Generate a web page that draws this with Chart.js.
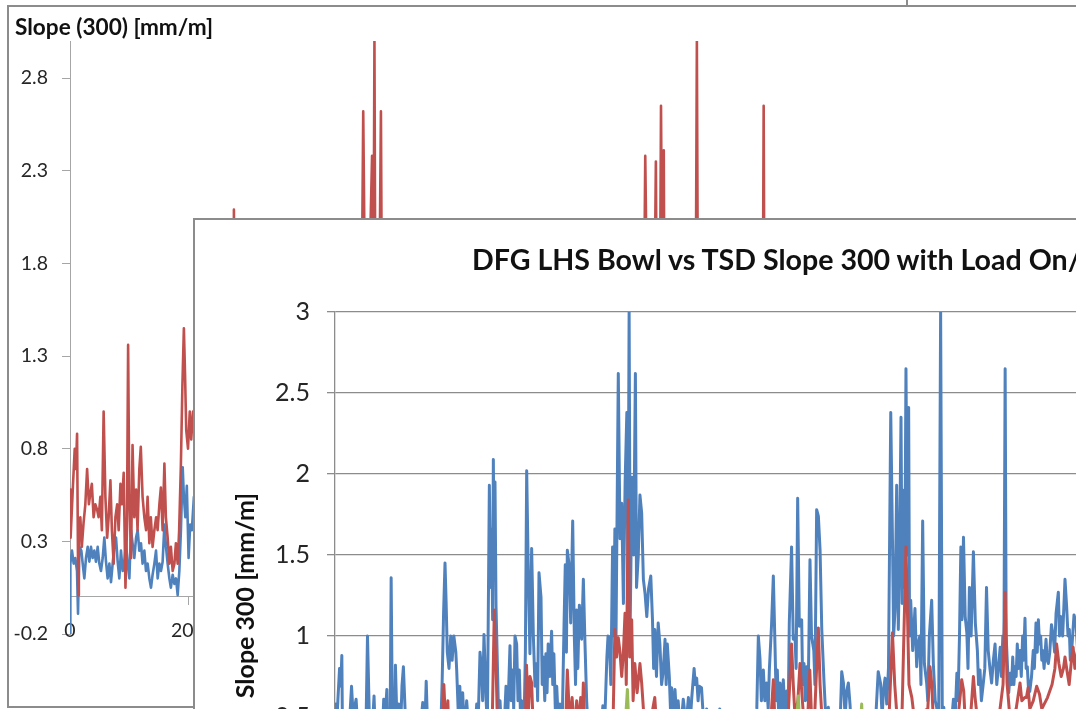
<!DOCTYPE html>
<html>
<head>
<meta charset="utf-8">
<script src="https://cdn.jsdelivr.net/npm/chart.js@4.4.1/dist/chart.umd.min.js"></script>
<style>
  body { margin: 0; width: 1076px; height: 709px; overflow: hidden; position: relative; background: #fff; }
  .frame { position: absolute; background: #fff; box-sizing: content-box; }
  #back { left: 7px; top: 5px; width: 1067px; height: 699px; border: 2px solid #8c8c8c; border-right: 1px solid #c8c8c8; z-index: 1; }
  #front { left: 193px; top: 218px; width: 1000px; height: 700px; border-left: 2px solid #8c8c8c; border-top: 2px solid #8c8c8c; z-index: 2; }
  #backChart, #frontChart { position: absolute; left: 0; top: 0; }
  .title { position: absolute; font-family: Lato, sans-serif; font-weight: bold; color: #111; white-space: nowrap; }
  #backTitle { left: 6px; top: 9px; font-size: 22.6px; line-height: 22px; }
  #frontTitle { left: 277px; top: 25px; font-size: 28.6px; line-height: 28px; }
  #edge { position: absolute; left: 906px; top: 0; width: 2px; height: 5px; background: #8c8c8c; }
</style>
</head>
<body>
<div id="edge"></div>
<div id="back" class="frame">
  <canvas id="backChart" width="1066" height="699"></canvas>
  <div id="backTitle" class="title">Slope (300) [mm/m]</div>
</div>
<div id="front" class="frame">
  <canvas id="frontChart" width="995" height="700"></canvas>
  <div id="frontTitle" class="title">DFG LHS Bowl vs TSD Slope 300 with Load On/Off</div>
</div>
<script>
// TSD slope 300 [distance, mm/m] - red in the back chart, blue in the front chart
const tsdSlope300 = [
  [0,0.58],[1,0.32],[5,0.6],[8,0.8],[10,0.69],[12,0.88],[14,0.01],[15,0.32],[17.5,0.43],[20,0.27],
  [23,0.4],[26,0.5],[29,0.69],[32,0.5],[34.5,0.56],[37,0.61],[40,0.43],[43,0.5],[46,0.47],[48.5,0.43],
  [51.5,0.54],[54,0.36],[57,1.0],[60,0.54],[63,0.32],[65.5,0.43],[68.5,0.63],[71,0.36],[74,0.18],[77,0.43],
  [80,0.5],[82.5,0.36],[85.5,0.61],[88,0.5],[91,0.67],[94,0.05],[96.5,0.36],[98.5,1.36],[100.5,0.54],[103.5,0.21],
  [106,0.82],[109,0.43],[112,0.58],[114.5,0.36],[117.5,0.69],[120,0.81],[123,0.54],[126,0.43],[129,0.36],[131.5,0.54],
  [134.5,0.29],[137,0.43],[140,0.27],[143,0.36],[146,0.43],[148.5,0.36],[151.5,0.5],[154,0.59],[157,0.36],[160,0.72],
  [162.5,0.43],[165.5,0.32],[168.5,0.18],[171,0.27],[174,0.14],[177,0.18],[179.5,0.29],[182.5,0.18],[185,0.36],[188,0.72],
  [190.5,1.14],[193,1.45],[195,1.2],[197,0.9],[200,0.8],[203,1.0],[205.5,0.85],[208.5,1.0],[212,0.9],
  [213.5,0.79],[216,0.55],[219,0.69],[221,0.45],[224,0.65],[227,0.4],[231,0.6],[236,0.35],[240,0.45],[244,0.3],
  [248.6,0.58],[251,0.45],[254.4,0.9],[257.3,0.79],[259,0.6],[261.4,1.01],[264.9,0.62],[267.3,0.45],[270.8,1.93],[273,1.3],
  [274.9,1.66],[276.5,1.1],[277.8,2.09],[279,1.5],[280.7,1.95],[282.5,1.18],[285.4,0.75],[287,0.5],[289.5,0.6],[293,0.35],
  [297,0.45],[300,0.69],[303,0.5],[307,0.94],[309,0.6],[311.7,0.79],[313.5,0.55],[315.8,1.0],[318.7,0.95],[321,0.6],
  [323.4,0.79],[325.5,0.5],[327.5,0.6],[331.6,0.45],[334,0.9],[336.3,2.02],[339,1.41],[342,0.89],[345,1.54],[348,1.0],
  [350.9,0.69],[353.8,0.83],[355.5,0.6],[357.9,1.39],[361.4,1.24],[363.5,0.7],[365.5,0.87],[368,0.6],[370,0.89],[372,0.65],
  [374,0.95],[377,0.75],[380,1.03],[382,0.7],[384,0.89],[386.5,0.55],[389,0.69],[392,0.45],[394.7,0.58],[398,0.35],
  [402,1.1],[404,1.44],[406,0.9],[407.6,1.53],[411,1.43],[413.5,1.08],[417,1.71],[420,0.98],[422,0.7],[424,1.16],
  [426,0.8],[428.7,1.19],[432.7,0.98],[435.7,1.35],[438.6,0.95],[441.5,0.6],[445,0.35],[455,0.3],[465,0.35],[470,0.57],
  [473,0.45],[477,0.87],[479,1.0],[481,0.99],[484,0.7],[487,1.55],[489,1.0],[491,1.66],[493,1.0],[497,2.62],
  [500,1.6],[503,1.82],[506,1.2],[509,1.95],[512,2.38],[514,1.3],[516,3.0],[518,1.1],[521,1.98],[524,1.5],
  [527,2.62],[529,1.3],[532,1.49],[535,1.87],[538,1.76],[541,1.35],[544,1.26],[547,1.12],[550,1.29],[554,1.37],
  [557,1.1],[559,0.8],[561,1.04],[564,0.75],[567,1.08],[570,0.95],[573,0.7],[576,0.79],[579,0.98],[581,0.7],
  [583,0.95],[586.5,0.75],[588.5,0.55],[590.6,0.68],[593,0.5],[596.5,0.67],[600,0.45],[602,0.6],[606,0.4],[611,0.61],
  [616,0.45],[620,0.62],[623,0.45],[625.7,0.61],[630,0.8],[632,0.7],[634.5,0.74],[637,0.6],[639,0.69],[643,0.68],
  [647,0.45],[652,0.55],[656,0.4],[665,0.35],[675,0.55],[680,0.35],[700,0.3],[720,0.35],[735,0.4],[740,0.55],
  [742.7,1.0],[745.6,0.86],[748,0.6],[751.5,0.79],[754,0.6],[757.3,0.71],[760,0.55],[762,0.79],[766,1.08],[769,1.37],
  [772,0.93],[774,0.6],[776,0.79],[778,0.55],[780.7,0.71],[783,0.5],[786.5,0.73],[789,0.55],[792.4,0.66],[795,0.5],
  [797,1.08],[801,1.55],[804,0.98],[807,1.0],[809,0.8],[811.7,1.85],[814.6,1.06],[818.7,1.1],[820.5,0.7],[822.8,0.83],
  [825,0.6],[827.5,0.81],[830,0.6],[833.3,1.47],[836,1.0],[840,0.91],[842,0.7],[845,1.78],[848,1.74],[851,1.53],
  [854,1.04],[858,0.71],[861,0.5],[865.5,0.56],[870,0.35],[880,0.3],[886,0.45],[889,0.78],[892,0.71],[895,0.5],
  [897.7,0.66],[900.6,0.71],[903.5,0.58],[907,0.35],[920,0.3],[935,0.35],[948,0.45],[953,0.78],[957,0.71],[960,0.5],
  [962,0.66],[965,0.74],[968,0.58],[971,0.8],[975,2.38],[978.4,1.49],[980,1.0],[982.5,1.16],[985.4,1.93],[988.3,1.04],
  [990.5,1.5],[993,2.35],[995,1.2],[997,1.9],[999.5,1.3],[1001.7,2.65],[1004,1.5],[1006.4,2.41],[1008,1.0],[1010,1.22],
  [1013.5,0.91],[1017.5,1.17],[1020.5,0.81],[1023,0.95],[1026,1.0],[1028,0.7],[1031,1.71],[1034,0.83],[1038,0.71],[1040,0.6],
  [1042.7,1.0],[1046.8,1.22],[1049.7,0.83],[1053,0.6],[1055.6,0.56],[1059,0.4],[1062.5,3.0],[1065.5,0.45],[1068,0.56],[1073,0.35],
  [1080,0.4],[1085,0.61],[1088,0.5],[1091,0.77],[1093,0.6],[1095.6,1.0],[1098,1.55],[1100,1.1],[1102.6,1.61],[1105.6,1.12],
  [1108.5,1.02],[1110.5,0.8],[1113,1.3],[1116,1.0],[1120,1.52],[1123.4,1.08],[1127,0.91],[1129,0.7],[1131.6,0.79],[1134,0.6],
  [1137.4,0.71],[1140,0.8],[1143,1.3],[1146,0.91],[1149,0.8],[1152,0.71],[1155,0.85],[1158,0.95],[1161,0.7],[1164,0.81],
  [1167,0.93],[1169,0.75],[1171.6,1.0],[1173.5,0.9],[1175.7,2.65],[1177.5,1.0],[1179.8,0.81],[1182,0.65],[1184.5,0.77],[1187,0.7],
  [1189,0.87],[1191,0.7],[1193,0.81],[1195,0.75],[1197,0.95],[1199,0.8],[1201.8,0.91],[1204,0.75],[1206.4,1.0],[1208,0.85],
  [1210.5,1.11],[1212.5,0.8],[1214.6,0.81],[1217,0.65],[1219,0.66],[1222,0.75],[1225,0.91],[1227,0.8],[1229.8,1.08],[1232,0.9],
  [1234,1.1],[1236,0.95],[1238,1.0],[1240,0.85],[1241.5,0.91],[1244,0.8],[1247.4,0.98],[1249.5,0.85],[1251.5,0.83],[1254,0.9],
  [1257,1.07],[1260,1.0],[1262.5,0.9],[1265,1.14],[1269,1.27],[1271,1.0],[1273,1.12],[1276.6,1.0],[1280.7,1.35],[1283.6,1.18],
  [1286,1.0],[1288.3,1.04],[1290,0.85],[1292.4,0.91],[1296.5,1.13],[1300,1.08],[1303,0.9],[1306,1.05],[1310,0.9],[1315,1.0],
  [1320,0.95]
];

// DFG LHS bowl [distance, mm/m] - blue in the back chart, red in the front chart
const lhsBowl = [
  [0,-0.2],[0.6,0.18],[3.4,0.25],[6.2,0.18],[9,0.21],[11.9,0.14],[13.6,-0.09],[15.8,0.27],[19.2,0.25],[21.5,0.18],
  [24.3,0.1],[27.1,0.21],[30,0.27],[32.8,0.19],[35.6,0.27],[38.4,0.21],[41.2,0.25],[44,0.19],[46.9,0.27],[49.7,0.18],
  [52.5,0.14],[55.4,0.21],[58.2,0.32],[61,0.19],[63.8,0.1],[66.7,0.18],[69.5,0.08],[72.3,0.18],[75,0.27],[78,0.32],
  [80.8,0.19],[83.6,0.1],[86.4,0.25],[89.3,0.14],[92,0.19],[95,0.29],[97.7,0.18],[100.6,0.1],[103.4,0.36],[106,0.29],
  [109,0.21],[112,0.32],[114.7,0.36],[117.5,0.25],[120.3,0.29],[123,0.18],[126,0.25],[128.8,0.14],[131.6,0.18],[134.5,0.1],
  [137.3,0.05],[140,0.12],[143,0.18],[145.8,0.25],[148.6,0.1],[151.4,0.18],[154.2,0.14],[157,0.19],[160,0.39],[162.7,0.27],
  [165.5,0.18],[168.4,0.1],[171,0.05],[174,0.12],[177,0.07],[179.7,0.1],[182.5,0.01],[185.3,0.14],[188,0.36],[191,0.7],
  [193,0.54],[195.5,0.43],[198,0.6],[201,0.21],[203.7,0.39],[206.5,0.36],[210,0.54],[214,0.3],[222,0.25],[235,0.3],
  [250,0.35],[265,0.3],[276,0.5],[279.5,1.16],[281,0.95],[282.5,0.83],[285,0.45],[300,0.35],[320,0.4],[334,0.45],
  [336,0.82],[339,0.5],[342,0.75],[345,0.71],[348,0.4],[370,0.35],[395,0.4],[405,0.5],[407.6,0.79],[412,0.45],
  [416,0.62],[420,0.4],[424,0.6],[428,0.45],[431,0.62],[434,0.5],[435.7,0.71],[438,0.4],[460,0.3],[480,0.35],
  [488,0.5],[491,1.04],[494,0.87],[497,0.99],[500,0.9],[503,0.75],[506,0.9],[508.8,1.14],[511,0.7],[514.6,1.84],
  [517,0.87],[520.5,1.1],[523,0.6],[526,0.83],[530,0.65],[535,0.83],[538,0.71],[542,0.5],[548,0.45],[555,0.5],
  [561,0.62],[565,0.4],[600,0.3],[650,0.35],[700,0.3],[750,0.35],[765,0.5],[769,0.73],[772,0.45],[795,0.5],
  [801,0.95],[804,0.7],[807,0.5],[812,0.6],[815.8,0.83],[818,0.7],[822,0.5],[830,0.55],[833,0.79],[836,0.5],
  [842,0.55],[845,0.81],[848,1.05],[851,0.7],[855,0.45],[900,0.3],[950,0.35],[972,0.5],[978,1.02],[982,0.7],
  [986,0.5],[995,0.55],[1001.7,1.55],[1004,1.2],[1007,0.7],[1012,0.62],[1016,0.5],[1040,0.55],[1043.9,0.81],[1047,0.7],
  [1050,0.45],[1090,0.4],[1096,0.6],[1099.5,0.73],[1103,0.66],[1106,0.45],[1116,0.55],[1120,0.75],[1123,0.62],[1128,0.45],
  [1165,0.5],[1172,0.7],[1175.7,1.27],[1179,0.71],[1184,0.5],[1195,0.55],[1201.8,0.71],[1205,0.6],[1210,0.62],[1213,0.62],
  [1216,0.68],[1219,0.55],[1225,0.6],[1231,0.69],[1236,0.64],[1240,0.55],[1250,0.62],[1258,0.7],[1263,0.8],[1266,0.95],
  [1270,0.83],[1274,0.75],[1278,0.8],[1280.7,0.87],[1284,0.79],[1288,0.7],[1292,0.85],[1295,0.93],[1298,0.8],[1302,0.9],
  [1310,0.85],[1320,0.95]
];

// Load on [distance, mm/m] - green, front chart only
const loadOn = [
  [0,0.1],[100,0.12],[200,0.15],[300,0.18],[400,0.2],[505,0.3],[510,0.5],[513,0.67],[516,0.4],[530,0.25],
  [650,0.2],[805,0.3],[810,0.5],[813,0.63],[816,0.35],[900,0.2],[920,0.35],[924,0.58],[927,0.3],[1100,0.2],
  [1320,0.25]
];

// Tick labels
const backYTicks = [-0.2, 0.3, 0.8, 1.3, 1.8, 2.3, 2.8];
const frontYTicks = [-0.5, 0, 0.5, 1, 1.5, 2, 2.5, 3];

const blue = '#4f81bd';
const red = '#c0504d';
const green = '#9bbb59';
const tickColor = '#262626';

function toXY(list) {
  return list.map(p => ({ x: p[0], y: p[1] }));
}

function lineSet(label, list, color, width) {
  return {
    label: label,
    data: toXY(list),
    borderColor: color,
    borderWidth: width,
    borderJoinStyle: 'round',
    pointRadius: 0,
    tension: 0,
    fill: false
  };
}

// Chart behind: Slope (300)
new Chart(document.getElementById('backChart'), {
  type: 'line',
  data: {
    datasets: [
      lineSet('TSD Slope 300', tsdSlope300, red, 2.6),
      lineSet('DFG LHS Bowl', lhsBowl, blue, 2.6)
    ]
  },
  options: {
    responsive: false,
    animation: false,
    events: [],
    layout: { padding: { top: 34, right: 2, bottom: 72, left: 0 } },
    plugins: { legend: { display: false }, tooltip: { enabled: false }, title: { display: false } },
    scales: {
      x: {
        type: 'linear', min: 0, max: 1700,
        position: { y: 0 },
        afterFit: s => { s.height = 0; s.paddingRight = 0; },
        ticks: { stepSize: 200, includeBounds: false, padding: 14, maxRotation: 0, color: tickColor, font: { family: 'Lato', size: 19.5 } },
        grid: { drawOnChartArea: false, tickLength: 8, color: '#a6a6a6' },
        border: { color: '#a6a6a6' }
      },
      y: {
        min: -0.2, max: 3.0,
        afterFit: s => { s.width = 61; },
        afterBuildTicks: s => { s.ticks = backYTicks.map(v => ({ value: v })); },
        ticks: { padding: 14, color: tickColor, font: { family: 'Lato', size: 19.5 }, callback: v => String(v) },
        grid: { drawOnChartArea: false, tickLength: 8, color: '#a6a6a6' },
        border: { color: '#a6a6a6' }
      }
    }
  }
});

// Chart in front: DFG LHS Bowl vs TSD Slope 300
new Chart(document.getElementById('frontChart'), {
  type: 'line',
  data: {
    datasets: [
      lineSet('Load On', loadOn, green, 3),
      lineSet('DFG LHS Bowl', lhsBowl, red, 3),
      lineSet('TSD Slope 300', tsdSlope300, blue, 3)
    ]
  },
  options: {
    responsive: false,
    animation: false,
    events: [],
    layout: { padding: { top: 92, right: 0, bottom: 41, left: 0 } },
    plugins: { legend: { display: false }, tooltip: { enabled: false }, title: { display: false } },
    scales: {
      x: { type: 'linear', min: 0, max: 1500, display: false },
      y: {
        min: -0.5, max: 3,
        afterFit: s => { s.width = 140; },
        afterBuildTicks: s => { s.ticks = frontYTicks.map(v => ({ value: v })); },
        ticks: { padding: 17, color: tickColor, font: { family: 'Lato', size: 25 }, callback: v => String(v) },
        grid: { color: '#8c8c8c', lineWidth: 1.3, tickLength: 8 },
        border: { color: '#8c8c8c', width: 1.3 },
        title: {
          display: true,
          text: 'Slope 300 [mm/m]',
          color: '#111',
          font: { family: 'Lato', size: 25, weight: 'bold' },
          padding: { top: 36, bottom: 0 }
        }
      }
    }
  }
});
</script>
</body>
</html>
